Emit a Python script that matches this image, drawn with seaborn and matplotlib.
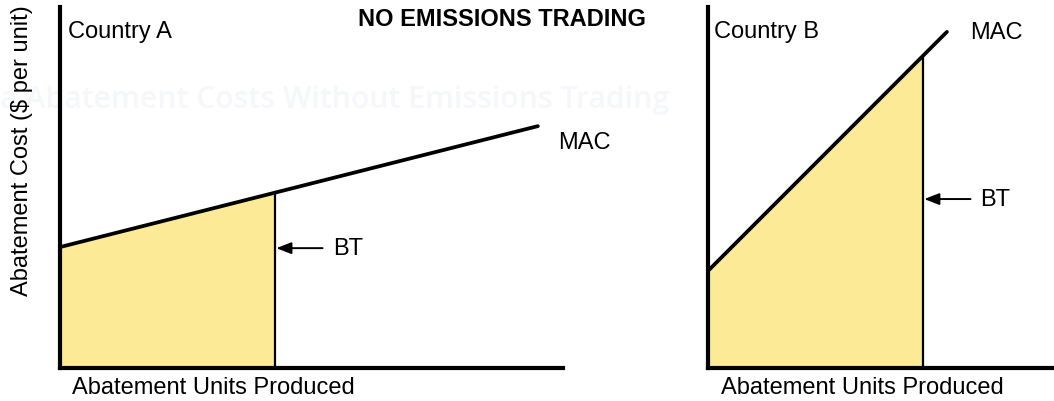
import numpy as np
import pandas as pd
import matplotlib
matplotlib.use("Agg")
import matplotlib.pyplot as plt
import seaborn as sns

# -------------------- DATA --------------------
countries = ["Country A", "Country B"]
mac_x = [[0, 95.0], [0, 47.5]]          # abatement units along MAC line
mac_y = [[33.5, 67.0], [26.9, 93.1]]    # abatement cost along MAC line
bt_units = [42.7, 42.7]                 # units abated before trading
bt_arrow_y = [33.2, 46.8]
x_max = [100.0, 68.8]
x_label = "Abatement Units Produced"
y_label = "Abatement Cost ($ per unit)"
title = "NO EMISSIONS TRADING"
watermark = "a Abatement Costs Without Emissions Trading"

fill_color = "#FCEA96"

# -------------------- STYLE --------------------
sns.set_style("white")
plt.rcParams["font.family"] = ["Liberation Sans", "DejaVu Sans"]
plt.rcParams["text.color"] = "black"

W, H = 1054, 402
fig = plt.figure(figsize=(W / 100, H / 100), dpi=100)

# axes rectangles in pixels: left, right, top, bottom
boxes = [(60, 563, 8, 369), (708, 1054, 8, 369)]

fig.text(0 / W, 1 - 100 / H, watermark, fontsize=21.7, color="#F5F7FA",
         family="Open Sans", fontweight="semibold", ha="left", va="center", zorder=-5)

for i, (l, r, t, b) in enumerate(boxes):
    ax = fig.add_axes([l / W, 1 - b / H, (r - l) / W, (b - t) / H])
    ax.patch.set_alpha(0)
    ax.set_xlim(0, x_max[i])
    ax.set_ylim(0, 100)

    # fill under MAC up to BT
    xs = np.array([0, bt_units[i]])
    slope = (mac_y[i][1] - mac_y[i][0]) / (mac_x[i][1] - mac_x[i][0])
    ys = mac_y[i][0] + slope * xs
    ax.fill_between(xs, 0, ys, color=fill_color, lw=0, zorder=1)
    ax.plot([bt_units[i], bt_units[i]], [0, ys[1]], color="black", lw=1.6, zorder=2)

    df = pd.DataFrame({"units": mac_x[i], "cost": mac_y[i]})
    sns.lineplot(data=df, x="units", y="cost", ax=ax, color="black", lw=2.7, zorder=3)

    ax.annotate("", xy=(bt_units[i] + 0.3, bt_arrow_y[i]), xytext=(bt_units[i] + 9.5, bt_arrow_y[i]),
                arrowprops=dict(arrowstyle="-|>,head_length=0.9,head_width=0.35",
                                color="black", lw=1.4, shrinkA=0, shrinkB=0))
    ax.text(bt_units[i] + 11.5, bt_arrow_y[i], "BT", fontsize=17, va="center", ha="left")

    ax.text(mac_x[i][1] + (4.0 if i == 0 else 4.6), mac_y[i][1] - (4.5 if i == 0 else 0),
            "MAC", fontsize=17, va="center", ha="left")
    ax.text(1.6 if i == 0 else 1.2, 93.4, countries[i], fontsize=17, va="center", ha="left")

    ax.text(2.4 if i == 0 else 2.6, -0.053, x_label, fontsize=17, va="center", ha="left",
            transform=ax.get_xaxis_transform())

    ax.set_xlabel("")
    ax.set_ylabel("")
    ax.set_xticks([])
    ax.set_yticks([])
    for s in ["top", "right"]:
        ax.spines[s].set_visible(False)
    for s in ["left", "bottom"]:
        ax.spines[s].set_linewidth(3.0)
        ax.spines[s].set_color("black")
        ax.spines[s].set_zorder(4)

fig.text(22 / W, 1 - 151 / H, y_label, fontsize=17, rotation=90, ha="center", va="center")
fig.text(358 / W, 1 - 20 / H, title, fontsize=17, fontweight="bold", ha="left", va="center")

fig.savefig("out.png", dpi=100)
